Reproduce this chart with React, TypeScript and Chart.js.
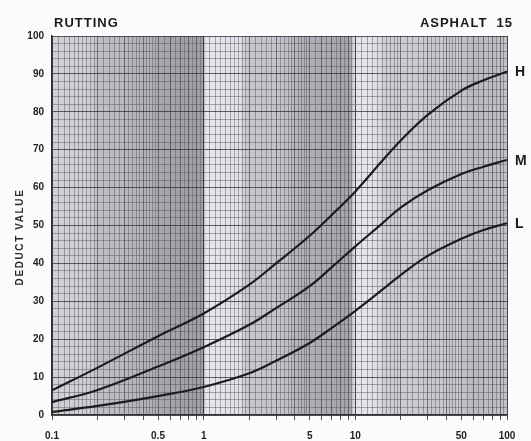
import React, { useEffect, useRef } from 'react';
import { Chart, registerables } from 'chart.js';

Chart.register(...registerables);

// ---- data ----
const rutDensity = [0.1, 0.2, 0.5, 1, 2, 3, 5, 7, 10, 15, 20, 30, 50, 70, 100];
const highDeduct = [6.5, 12.5, 20.8, 26.8, 34.4, 40, 47.3, 52.8, 59, 67, 72.5, 79.2, 85.6, 88.3, 90.6];
const mediumDeduct = [3.4, 6.6, 12.8, 17.9, 23.8, 28.2, 34, 39, 44.5, 50.5, 54.8, 59.3, 63.6, 65.5, 67.3];
const lowDeduct = [0.8, 2.4, 5, 7.4, 11, 14.3, 19, 23, 27.5, 33, 37, 42, 46.5, 48.8, 50.6];
const severityLabels = ['H', 'M', 'L'];
const xLabeledTicks = [0.1, 0.5, 1, 5, 10, 50, 100];
const xTickLabels = ['0.1', '0.5', '1', '5', '10', '50', '100'];
const decadeStarts = [0.1, 1, 10];
const gridMantissas = [
  1, 1.1, 1.2, 1.3, 1.4, 1.5, 1.6, 1.7, 1.8, 1.9,
  2, 2.2, 2.4, 2.6, 2.8, 3, 3.2, 3.4, 3.6, 3.8, 4, 4.2, 4.4, 4.6, 4.8,
  5, 5.5, 6, 6.5, 7, 7.5, 8, 8.5, 9, 9.5,
];
const markedMantissas = [1, 2, 3, 4, 5, 6, 7, 8, 9];

// scanned-paper shading of the grid sheet (fraction across plot, gray level)
const bandStops: [number, number][] = [
  [0, 208], [0.084, 206], [0.105, 190], [0.215, 178], [0.248, 164], [0.332, 160],
  [0.338, 230], [0.413, 224], [0.43, 200], [0.512, 194], [0.545, 178], [0.655, 164],
  [0.666, 230], [0.71, 226], [0.732, 205], [0.897, 198], [0.92, 186], [1, 192],
];

const near = (a: number, b: number) => Math.abs(a - b) / b < 1e-6;
const FONT = '"Liberation Sans", Arial, sans-serif';

const bgPlugin = {
  id: 'sheetBg',
  beforeDraw(chart: any) {
    const { ctx, chartArea: a } = chart;
    const g = ctx.createLinearGradient(a.left, 0, a.right, 0);
    bandStops.forEach(([f, v]) => g.addColorStop(f, `rgb(${v},${v},${v + 6})`));
    ctx.save();
    ctx.fillStyle = g;
    ctx.fillRect(a.left, a.top, a.right - a.left, a.bottom - a.top);
    ctx.restore();
  },
};

const endLabelPlugin = {
  id: 'endLabels',
  afterDatasetsDraw(chart: any) {
    const { ctx } = chart;
    ctx.save();
    ctx.fillStyle = '#1a1a1a';
    ctx.font = `bold 14px ${FONT}`;
    ctx.textBaseline = 'middle';
    chart.data.datasets.forEach((ds: any, i: number) => {
      const meta = chart.getDatasetMeta(i);
      const pt = meta.data[meta.data.length - 1];
      ctx.fillText(ds.label, pt.x + 8, pt.y + 1);
    });
    ctx.restore();
  },
};

const titlePlugin = {
  id: 'titles',
  afterDraw(chart: any) {
    const { ctx, chartArea: a } = chart;
    ctx.save();
    ctx.fillStyle = '#1a1a1a';
    ctx.font = `bold 13px ${FONT}`;
    (ctx as any).letterSpacing = '1px';
    ctx.textBaseline = 'alphabetic';
    ctx.textAlign = 'left';
    ctx.fillText('RUTTING', a.left + 2, a.top - 9);
    ctx.textAlign = 'right';
    ctx.fillText('ASPHALT  15', a.right + 6, a.top - 9);
    // y-axis title
    ctx.font = `bold 10px ${FONT}`;
    (ctx as any).letterSpacing = '1.6px';
    ctx.translate(20, 237);
    ctx.rotate(-Math.PI / 2);
    ctx.textAlign = 'center';
    ctx.textBaseline = 'middle';
    ctx.fillStyle = '#2a2a2a';
    ctx.fillText('DEDUCT VALUE', 0, 0);
    ctx.restore();
  },
};

export default function App() {
  const ref = useRef<HTMLCanvasElement | null>(null);

  useEffect(() => {
    document.body.style.margin = '0';
    const gridValues: number[] = [];
    decadeStarts.forEach((d) => gridMantissas.forEach((m) => gridValues.push(+(d * m).toPrecision(6))));
    gridValues.push(100);

    const sets = [highDeduct, mediumDeduct, lowDeduct];
    const chart = new Chart(ref.current as HTMLCanvasElement, {
      type: 'line',
      data: {
        datasets: sets.map((vals, i) => ({
          label: severityLabels[i],
          data: rutDensity.map((x, k) => ({ x, y: vals[k] })),
          borderColor: '#1c1c1c',
          borderWidth: 2.2,
          pointRadius: 0,
          fill: false,
          tension: 0.4,
        })),
      },
      options: {
        animation: false,
        responsive: false,
        layout: { padding: { left: 0, top: 36, right: 24, bottom: 0 } },
        plugins: { legend: { display: false }, tooltip: { enabled: false } },
        scales: {
          x: {
            type: 'logarithmic',
            min: 0.1,
            max: 100,
            afterBuildTicks: (scale: any) => {
              scale.ticks = gridValues.map((v) => ({ value: v }));
            },
            afterFit: (scale: any) => {
              scale.height = 26;
            },
            ticks: {
              autoSkip: false,
              maxRotation: 0,
              padding: 10,
              color: '#222',
              font: { family: FONT, size: 10, weight: 'bold' },
              callback: (value: any) => {
                const idx = xLabeledTicks.findIndex((t) => near(Number(value), t));
                return idx >= 0 ? xTickLabels[idx] : '';
              },
            },
            grid: {
              drawTicks: true,
              tickLength: 5,
              color: (c: any) => {
                const v = c.tick?.value;
                if (v == null) return 'rgba(0,0,0,0)';
                if (decadeStarts.some((d) => near(v, d)) || near(v, 100)) return 'rgba(40,40,45,0.85)';
                if (decadeStarts.some((d) => markedMantissas.some((m) => near(v, d * m)))) return 'rgba(55,55,62,0.62)';
                return 'rgba(80,80,88,0.45)';
              },
              tickColor: (c: any) => {
                const v = c.tick?.value;
                if (v == null) return 'rgba(0,0,0,0)';
                if (decadeStarts.some((d) => markedMantissas.some((m) => near(v, d * m))) || near(v, 100))
                  return 'rgba(40,40,40,0.8)';
                return 'rgba(0,0,0,0)';
              },
              lineWidth: 1,
            },
            border: { display: true, color: '#333', width: 1.5 },
          },
          y: {
            min: 0,
            max: 100,
            afterFit: (scale: any) => {
              scale.width = 52;
            },
            ticks: {
              stepSize: 2,
              autoSkip: false,
              padding: 8,
              color: '#222',
              font: { family: FONT, size: 10, weight: 'bold' },
              callback: (value: any) => (Number(value) % 10 === 0 ? String(value) : ''),
            },
            grid: {
              drawTicks: false,
              color: (c: any) => {
                const v = c.tick?.value;
                if (v == null) return 'rgba(0,0,0,0)';
                if (v % 10 === 0) return 'rgba(45,45,52,0.75)';
                return 'rgba(80,80,88,0.45)';
              },
              lineWidth: 1,
            },
            border: { display: true, color: '#333', width: 1.5 },
          },
        },
      },
      plugins: [bgPlugin, endLabelPlugin, titlePlugin],
    } as any);
    return () => chart.destroy();
  }, []);

  return (
    <div style={{ position: 'absolute', left: 0, top: 0, width: 531, height: 441, background: '#fbfbfb' }}>
      <canvas ref={ref} width={531} height={441} />
    </div>
  );
}
